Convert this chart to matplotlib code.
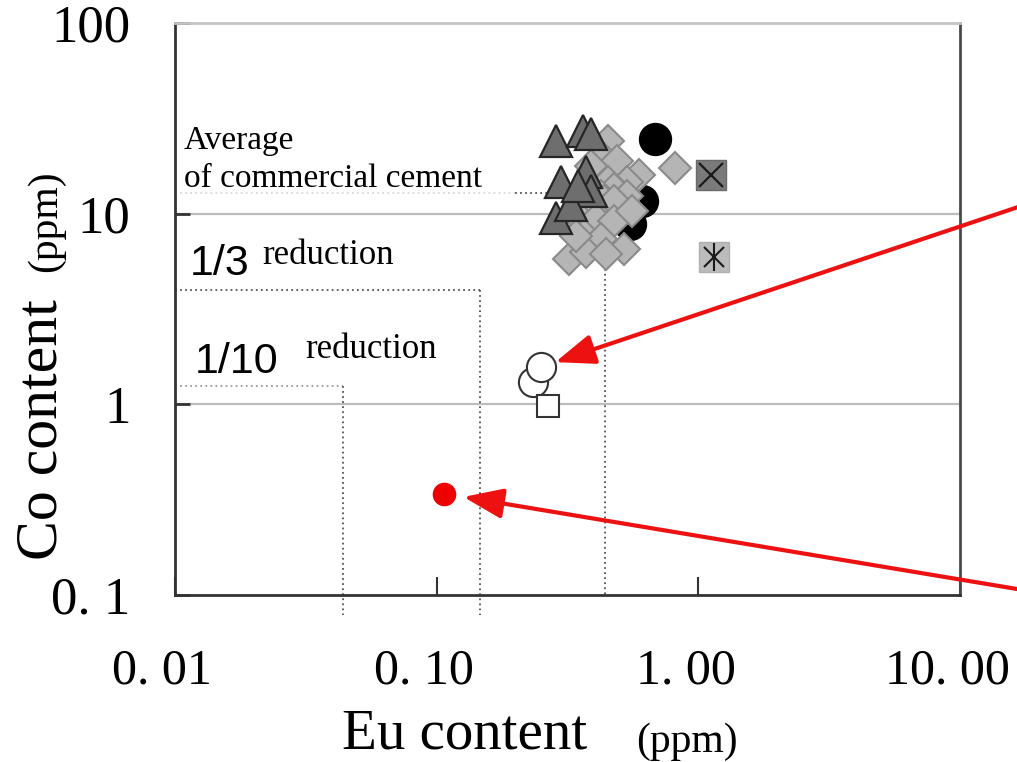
import matplotlib.pyplot as plt
from matplotlib.ticker import FixedLocator, NullLocator
from matplotlib.transforms import ScaledTranslation

# Eu / Co contents (ppm) of the sample groups
tri_eu = [0.286, 0.363, 0.390, 0.298, 0.373, 0.390, 0.286, 0.326, 0.347]
tri_co = [23.9, 27.0, 26.1, 14.7, 16.6, 13.1, 9.5, 11.1, 13.9]

dia_eu = [0.453, 0.426, 0.487, 0.390, 0.591, 0.815, 0.532, 0.453, 0.478, 0.426,
          0.532, 0.437, 0.478, 0.350, 0.407, 0.478, 0.556, 0.366, 0.426, 0.518,
          0.321, 0.373, 0.445, 0.341]
dia_co = [23.9, 20.0, 18.8, 17.7, 16.0, 17.3, 14.7, 14.7, 13.5, 12.3,
          12.3, 11.6, 11.6, 9.6, 9.4, 9.1, 10.3, 7.75, 7.4, 6.5,
          5.8, 6.3, 6.15, 7.6]

blk_eu = [0.682, 0.608, 0.546]
blk_co = [24.5, 11.6, 8.86]

xsq_eu, xsq_co = [1.12], [16.0]
ast_eu, ast_co = [1.15], [5.94]

open_circ_eu = [0.250, 0.234]
open_circ_co = [1.57, 1.31]
open_sq_eu, open_sq_co = [0.266], [0.976]

red_eu, red_co = [0.107], [0.34]

# average of commercial cement and the reduction targets
avg_eu, avg_co = 0.44, 12.9
third_eu, third_co = 0.147, 4.0
tenth_eu, tenth_co = 0.044, 1.25

x_ticks = [0.01, 0.1, 1, 10]
x_labels = ['0. 01', '0. 10', '1. 00', '10. 00']
y_ticks = [0.1, 1, 10, 100]
y_labels = ['0. 1', '1', '10', '100']

serif = 'Liberation Serif'

fig = plt.figure(figsize=(10.17, 7.62), dpi=100)
ax = fig.add_axes([0.172, 0.219, 0.772, 0.751])
ax.set_xscale('log')
ax.set_yscale('log')
ax.set_xlim(0.01, 10)
ax.set_ylim(0.1, 100)

# horizontal grid lines at 1 and 10
for g in [1, 10]:
    ax.axhline(g, color='#bdbdbd', lw=1.6, zorder=0)

# dotted guide lines
dot = dict(color='#555555', lw=1.3, linestyle=(0, (1, 1.8)), zorder=1)
ax.plot([0.01, 0.2], [avg_co, avg_co], **{**dot, 'color': '#d8d8d8'})
ax.plot([0.2, avg_eu], [avg_co, avg_co], **dot)
ax.plot([avg_eu, avg_eu], [avg_co, 0.1], **dot)
ax.plot([0.01, third_eu], [third_co, third_co], **dot)
ax.plot([third_eu, third_eu], [third_co, 0.079], clip_on=False, **dot)
ax.plot([0.01, tenth_eu], [tenth_co, tenth_co], **{**dot, 'color': '#9a9a9a'})
ax.plot([tenth_eu, tenth_eu], [tenth_co, 0.079], clip_on=False, **dot)

# markers
ax.plot(blk_eu[1:], blk_co[1:], 'o', ms=23, mfc='black', mec='black', zorder=2)
ax.plot(dia_eu, dia_co, 'D', ms=16, mfc='#b5b5b5', mec='#8a8a8a', mew=1.5, zorder=3)
ax.plot(tri_eu, tri_co, '^', ms=23, mfc='#6e6e6e', mec='#262626', mew=1.6, zorder=4)
ax.plot(blk_eu[:1], blk_co[:1], 'o', ms=23, mfc='black', mec='black', zorder=5)

ax.plot(xsq_eu, xsq_co, 's', ms=22, mfc='#7a7a7a', mec='#6a6a6a', zorder=5)
ax.plot(xsq_eu, xsq_co, 'x', ms=17, mec='#1a1a1a', mew=1.6, zorder=6)
ax.plot(ast_eu, ast_co, 's', ms=21, mfc='#bcbcbc', mec='#b0b0b0', zorder=5)
ax.plot(ast_eu, ast_co, 'x', ms=14, mec='#1a1a1a', mew=1.5, zorder=6)
ax.plot(ast_eu, ast_co, '|', ms=20, mec='#1a1a1a', mew=1.5, zorder=6)

ax.plot(open_circ_eu[::-1], open_circ_co[::-1], 'o', ms=21, mfc='white',
        mec='#333333', mew=1.5, zorder=5)
ax.plot(open_sq_eu, open_sq_co, 's', ms=16, mfc='white', mec='#333333',
        mew=1.5, zorder=5)

ax.plot(red_eu, red_co, 'o', ms=16, mfc='#ee0000', mec='#ee0000', zorder=5)

# red arrows coming in from the right edge
arrow = dict(arrowstyle='-|>,head_length=1.1,head_width=0.42', color='#ee1111',
             lw=3, mutation_scale=22, shrinkA=0)
ax.annotate('', xy=(open_circ_eu[0], open_circ_co[0]), xytext=(1.08, 0.681),
            textcoords='axes fraction',
            arrowprops={**arrow, 'shrinkB': 11}, annotation_clip=False, zorder=7)
ax.annotate('', xy=(red_eu[0], red_co[0]), xytext=(1.08, 0.009),
            textcoords='axes fraction',
            arrowprops={**arrow, 'shrinkB': 14}, annotation_clip=False, zorder=7)

# labels inside the plot
ax.text(0.011, 0.714, 'Average\nof commercial cement', transform=ax.transAxes,
        family=serif, fontsize=24, va='baseline', ha='left', linespacing=1.3)
ax.text(0.019, 0.56, '1/3', transform=ax.transAxes, family='Liberation Sans',
        fontsize=31, va='baseline', ha='left')
ax.text(0.111, 0.579, 'reduction', transform=ax.transAxes, family=serif,
        fontsize=25, va='baseline', ha='left')
ax.text(0.025, 0.389, '1/10', transform=ax.transAxes, family='Liberation Sans',
        fontsize=31, va='baseline', ha='left')
ax.text(0.166, 0.415, 'reduction', transform=ax.transAxes, family=serif,
        fontsize=25, va='baseline', ha='left')

# axes styling
ax.xaxis.set_major_locator(FixedLocator(x_ticks))
ax.yaxis.set_major_locator(FixedLocator(y_ticks))
ax.xaxis.set_minor_locator(NullLocator())
ax.yaxis.set_minor_locator(NullLocator())
ax.set_xticklabels(x_labels, family=serif, fontsize=36)
ax.set_yticklabels(y_labels, family=serif, fontsize=38)
ax.tick_params(axis='x', direction='in', length=13, width=1.5, color='#333333', pad=38)
ax.tick_params(axis='y', direction='in', length=11, width=2, color='#333333', pad=32)
shift = ScaledTranslation(-9 / 72, 0, fig.dpi_scale_trans)
for lbl in ax.get_xticklabels():
    lbl.set_transform(lbl.get_transform() + shift)

for side in ['left', 'bottom']:
    ax.spines[side].set_linewidth(2)
    ax.spines[side].set_color('#333333')
ax.spines['right'].set_linewidth(2)
ax.spines['right'].set_color('#4a4a4a')
ax.spines['top'].set_linewidth(2)
ax.spines['top'].set_color('#c4c4c4')

# axis titles
fig.text(0.457, 0.002, 'Eu content', family=serif, fontsize=41, ha='center', va='bottom')
fig.text(0.675, 0.013, '(ppm)', family=serif, fontsize=30, ha='center', va='baseline')
fig.text(0.068, 0.436, 'Co content', family=serif, fontsize=43, rotation=90,
         ha='right', va='center')
fig.text(0.064, 0.71, '(ppm)', family=serif, fontsize=30, rotation=90,
         ha='right', va='center')

fig.savefig('out.png', dpi=100)
